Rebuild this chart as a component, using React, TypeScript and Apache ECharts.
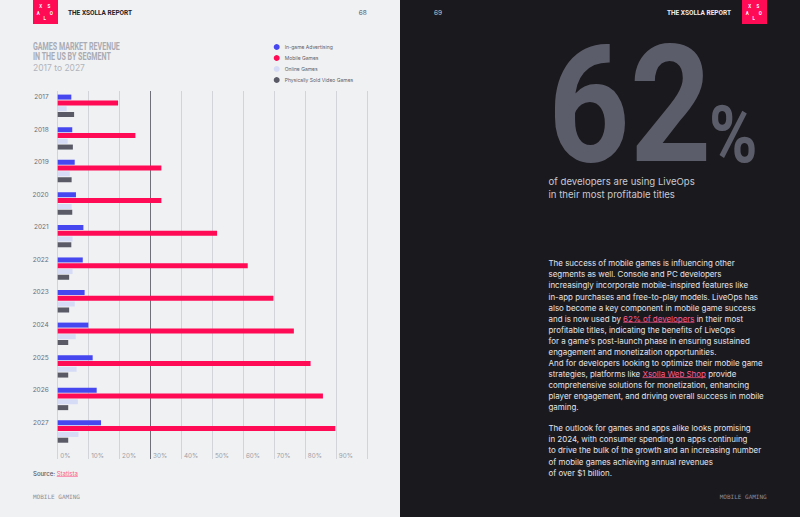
import { useEffect, useRef } from "react";
import * as echarts from "echarts";

// Games market revenue in the US by segment, 2017 to 2027 (share, %)
const years = ["2017", "2018", "2019", "2020", "2021", "2022", "2023", "2024", "2025", "2026", "2027"];
const inGameAdvertising = [4.4, 4.7, 5.5, 5.9, 8.3, 8.1, 8.7, 9.9, 11.3, 12.6, 14.0];
const mobileGames = [19.5, 25.1, 33.5, 33.5, 51.5, 61.4, 69.7, 76.3, 81.7, 85.7, 89.7];
const onlineGames = [2.9, 3.2, 3.9, 4.5, 4.8, 4.8, 5.5, 5.8, 6.1, 6.5, 6.7];
const physicallySold = [5.3, 4.9, 4.5, 4.7, 4.4, 3.7, 3.7, 3.4, 3.4, 3.4, 3.4];

const segmentNames = ["In-game Advertising", "Mobile Games", "Online Games", "Physically Sold Video Games"];
const segmentColors = ["#4747ef", "#ff0a55", "#d6dbf6", "#595a66"];

const xMin = 0;
const xMax = 100;
const xStep = 10;

// body copy; lines with inline links are given as [before, link, after]
const paragraphOne: (string | [string, string, string])[] = [
  "The success of mobile games is influencing other",
  "segments as well. Console and PC developers",
  "increasingly incorporate mobile-inspired features like",
  "in-app purchases and free-to-play models. LiveOps has",
  "also become a key component in mobile game success",
  ["and is now used by ", "62% of developers", " in their most"],
  "profitable titles, indicating the benefits of LiveOps",
  "for a game's post-launch phase in ensuring sustained",
  "engagement and monetization opportunities.",
  "And for developers looking to optimize their mobile game",
  ["strategies, platforms like ", "Xsolla Web Shop", " provide"],
  "comprehensive solutions for monetization, enhancing",
  "player engagement, and driving overall success in mobile",
  "gaming.",
];
const paragraphTwo = [
  "The outlook for games and apps alike looks promising",
  "in 2024, with consumer spending on apps continuing",
  "to drive the bulk of the growth and an increasing number",
  "of mobile games achieving annual revenues",
  "of over $1 billion.",
];

const LIGHT_BG = "#f0f1f3";
const DARK_BG = "#1a191e";
const PINK = "#ff0a55";
const LINK = "#ff5a8e";
const BODY_FONT = "Inter, 'Noto Sans', sans-serif";

let measureCtx: CanvasRenderingContext2D | null = null;
function textWidth(text: string, size: number, weight: string | number = "normal") {
  if (!measureCtx) measureCtx = document.createElement("canvas").getContext("2d");
  if (!measureCtx) return text.length * size * 0.5;
  measureCtx.font = `${weight} ${size}px ${BODY_FONT}`;
  return measureCtx.measureText(text).width;
}

function txt(x: number, y: number, text: string, style: any, extra: any = {}) {
  return {
    type: "text",
    x,
    y,
    silent: true,
    ...extra,
    style: { text, verticalAlign: "middle", align: "left", fontFamily: BODY_FONT, ...style },
  };
}

function underline(x: number, y: number, w: number, lineWidth = 0.7) {
  return { type: "line", silent: true, shape: { x1: x, y1: y, x2: x + w, y2: y }, style: { stroke: LINK, lineWidth } };
}

function logo(x: number) {
  const glyph = (dx: number, dy: number, t: string) =>
    txt(x + dx, dy, t, { fill: "#ffffff", fontSize: 4.5, fontWeight: "bold", align: "center", fontFamily: "Roboto" });
  return [
    { type: "rect", shape: { x, y: 0, width: 25, height: 24 }, style: { fill: PINK }, silent: true },
    glyph(7.7, 6, "X"),
    glyph(16, 6, "S"),
    glyph(5.3, 13.3, "A"),
    glyph(18.3, 13.3, "O"),
    glyph(11.7, 18.3, "L"),
  ];
}

function buildGraphics() {
  const g: any[] = [];
  // dark right-hand page
  g.push({ type: "rect", z: -10, shape: { x: 400, y: 0, width: 400, height: 517 }, style: { fill: DARK_BG }, silent: true });

  // left page header
  g.push(...logo(33));
  g.push(txt(68, 12.5, "THE XSOLLA REPORT", { fill: "#222228", fontSize: 6.5, fontWeight: "bold", fontFamily: "Roboto" }));
  g.push(txt(366.7, 12.5, "68", { fill: "#55565e", fontSize: 6.5, align: "right" }));

  // chart title
  g.push(txt(33, 47, "GAMES MARKET REVENUE", { fill: "#a9abb3", fontSize: 10.3, fontWeight: "bold", fontFamily: "Roboto" }, { scaleX: 0.69 }));
  g.push(txt(33, 57, "IN THE US BY SEGMENT", { fill: "#a9abb3", fontSize: 10.3, fontWeight: "bold", fontFamily: "Roboto" }, { scaleX: 0.69 }));
  g.push(txt(33, 68, "2017 to 2027", { fill: "#b2b4bb", fontSize: 8.5 }));

  // source + footer
  const srcSize = 6;
  const srcLabel = "Source: ";
  const srcX = 33 + textWidth(srcLabel, srcSize, 500);
  g.push(txt(33, 473, srcLabel, { fill: "#55565e", fontSize: srcSize, fontWeight: 500 }));
  g.push(txt(srcX, 473, "Statista", { fill: LINK, fontSize: srcSize }));
  g.push(underline(srcX, 476.5, textWidth("Statista", srcSize), 0.6));
  g.push(txt(33, 496.7, "MOBILE GAMING", { fill: "#8e9099", fontSize: 6, fontFamily: "'DejaVu Sans Mono', monospace" }));

  // right page header
  g.push(txt(434, 12.5, "69", { fill: "#c8c9cf", fontSize: 6.5 }));
  g.push(txt(731, 12.5, "THE XSOLLA REPORT", { fill: "#ececef", fontSize: 6.5, fontWeight: "bold", align: "right", fontFamily: "Roboto" }));
  g.push(...logo(742));

  // key figure
  g.push(txt(548, 104.5, "62", { fill: "#5c5d6a", fontSize: 164, fontWeight: "bold", fontFamily: "Roboto" }, { scaleX: 0.87 }));
  g.push(txt(709, 135, "%", { fill: "#5c5d6a", fontSize: 80, fontWeight: "bold", fontFamily: "Roboto" }, { scaleX: 0.82 }));
  g.push(txt(548.5, 181.7, "of developers are using LiveOps", { fill: "#c8c9cf", fontSize: 9.6 }));
  g.push(txt(548.5, 194, "in their most profitable titles", { fill: "#c8c9cf", fontSize: 9.6 }));

  // body copy
  const lh = 11.07;
  const bodySize = 7.95;
  const bodyStyle = { fill: "#e4e4e8", fontSize: bodySize };
  const x0 = 548.5;
  paragraphOne.forEach((line, i) => {
    const y = 263.3 + i * lh;
    if (typeof line === "string") {
      g.push(txt(x0, y, line, bodyStyle));
      return;
    }
    const [before, link, after] = line;
    const linkX = x0 + textWidth(before, bodySize);
    const linkW = textWidth(link, bodySize);
    g.push(txt(x0, y, before, bodyStyle));
    g.push(txt(linkX, y, link, { ...bodyStyle, fill: LINK }));
    g.push(underline(linkX, y + 3.6, linkW));
    g.push(txt(linkX + linkW, y, after, bodyStyle));
  });
  paragraphTwo.forEach((line, i) => {
    g.push(txt(x0, 428.3 + i * lh, line, bodyStyle));
  });
  g.push(txt(766.7, 496.7, "MOBILE GAMING", { fill: "#8a8b96", fontSize: 6, align: "right", fontFamily: "'DejaVu Sans Mono', monospace" }));
  return g;
}

export default function App() {
  const ref = useRef<HTMLDivElement>(null);

  useEffect(() => {
    if (!ref.current) return;
    const chart = echarts.init(ref.current, undefined, { renderer: "svg" });

    const gridLeft = 57.7;
    const gridWidth = 309.5;
    // every 10% line is light, the 30% line is drawn darker
    const splitColors: string[] = [];
    for (let i = 0; i <= (xMax - xMin) / xStep; i++) splitColors.push(i === 3 ? "#6f707a" : "#d3d4d9");

    const values = [inGameAdvertising, mobileGames, onlineGames, physicallySold];

    chart.setOption({
      animation: false,
      backgroundColor: LIGHT_BG,
      textStyle: { fontFamily: BODY_FONT },
      legend: {
        orient: "vertical",
        left: 273.7,
        top: 43.5,
        padding: 0,
        itemWidth: 6,
        itemHeight: 6,
        itemGap: 4,
        icon: "circle",
        data: segmentNames,
        textStyle: { fontSize: 5, color: "#5d5e66", lineHeight: 7, fontFamily: BODY_FONT },
      },
      grid: [
        { left: gridLeft, top: 89.5, width: gridWidth, height: 358.3 },
        { left: gridLeft, top: 91, width: gridWidth, height: 368 },
      ],
      xAxis: [
        { gridIndex: 0, type: "value", min: xMin, max: xMax, interval: xStep, show: false },
        {
          gridIndex: 1,
          type: "value",
          min: xMin,
          max: xMax,
          interval: xStep,
          axisLine: { show: false },
          axisTick: { show: false },
          splitLine: { show: true, showMinLine: true, showMaxLine: true, lineStyle: { color: splitColors, width: 1 } },
          axisLabel: {
            inside: true,
            margin: 0,
            align: "left",
            padding: [0, 0, 0, 2.5],
            fontSize: 6.3,
            color: "#9c9ea6",
            fontFamily: BODY_FONT,
            formatter: (v: number) => (v >= xMax ? "" : `${v}%`),
          },
        },
      ],
      yAxis: [
        {
          gridIndex: 0,
          type: "category",
          data: years,
          inverse: true,
          axisLine: { show: false },
          axisTick: { show: false },
          splitLine: { show: false },
          axisLabel: {
            interval: 0,
            showMinLabel: true,
            showMaxLabel: true,
            hideOverlap: false,
            margin: 9,
            fontSize: 6.5,
            color: "#6c6e76",
            verticalAlign: "middle",
            lineHeight: 17.6,
            fontFamily: BODY_FONT,
            // second empty line lifts the year to the top of its bar group
            formatter: (v: string) => `${v}\n `,
          },
        },
        { gridIndex: 1, type: "value", show: false, min: 0, max: 1 },
      ],
      series: segmentNames.map((name, i) => ({
        name,
        type: "bar",
        xAxisIndex: 0,
        yAxisIndex: 0,
        data: values[i],
        barWidth: 5,
        barGap: "16%",
        itemStyle: { color: segmentColors[i] },
        emphasis: { disabled: true },
      })),
      graphic: { elements: buildGraphics() },
    });

    return () => chart.dispose();
  }, []);

  return <div ref={ref} style={{ position: "fixed", left: 0, top: 0, width: 800, height: 517 }} />;
}
